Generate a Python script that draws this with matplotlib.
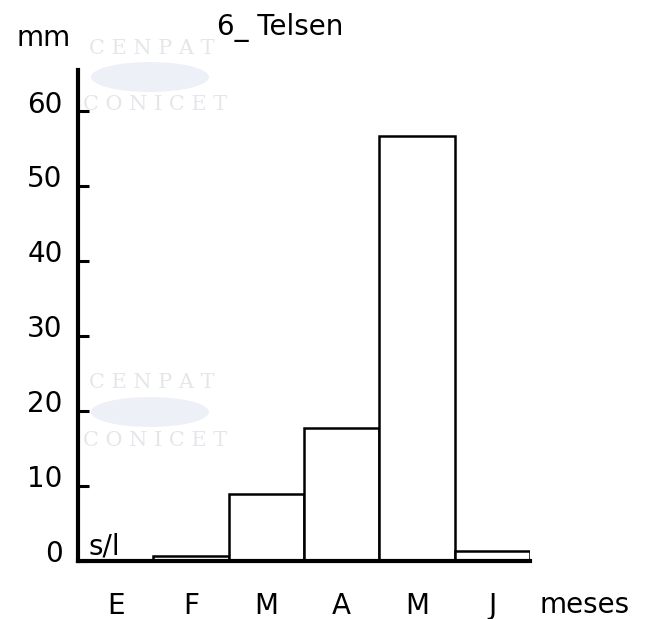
# plot.py - monthly rainfall bars for station 6 (Telsen)
import matplotlib
matplotlib.use("Agg")
import matplotlib.pyplot as plt
import matplotlib.transforms as mtransforms
from matplotlib.patches import Ellipse

months = ["E", "F", "M", "A", "M", "J"]
rain_mm = [None, 0.7, 9.0, 17.7, 56.7, 1.3]  # None = s/l (sin lluvia / sin lectura)
y_ticks = [0, 10, 20, 30, 40, 50, 60]

FS = 20


def main() -> None:
    fig = plt.figure(figsize=(6.48, 6.19), dpi=100)
    ax = fig.add_axes([78 / 648, 1 - 561 / 619, 452 / 648, 491 / 619])

    xs = [i for i, v in enumerate(rain_mm) if v is not None]
    hs = [v for v in rain_mm if v is not None]
    ax.bar(xs, hs, width=1.0, color="white", edgecolor="black", linewidth=1.8, zorder=2)

    ax.set_xlim(-0.5, len(months) - 0.5)
    ax.set_ylim(0, 65.5)

    for side in ("top", "right"):
        ax.spines[side].set_visible(False)
    for side in ("left", "bottom"):
        ax.spines[side].set_linewidth(3.0)
        ax.spines[side].set_zorder(3)

    ax.set_yticks(y_ticks)
    ax.set_yticklabels([str(t) for t in y_ticks], fontsize=FS)
    ax.tick_params(axis="y", direction="in", length=8, width=2.2, pad=11)
    offset = mtransforms.ScaledTranslation(0, 7 / 72, fig.dpi_scale_trans)
    for lab in ax.get_yticklabels():
        lab.set_transform(lab.get_transform() + offset)

    ax.set_xticks(range(len(months)))
    ax.set_xticklabels(months, fontsize=FS)
    ax.tick_params(axis="x", length=0, pad=22)

    # no data marker for January
    ax.text(-0.36, 0.9, "s/l", fontsize=FS, ha="left", va="baseline")

    fig.text(280 / 648, 1 - 28 / 619, "6_ Telsen", fontsize=FS, ha="center", va="center")
    fig.text(44 / 648, 1 - 38 / 619, "mm", fontsize=FS, ha="center", va="center")
    fig.text(585 / 648, 1 - 605 / 619, "meses", fontsize=FS, ha="center", va="center")

    # faint watermark of the scanned source
    wm = dict(fontsize=15, color="#e4e6e9", family="DejaVu Serif", ha="center",
              va="center", zorder=0)
    for y_top in (48, 383):
        fig.text(152 / 648, 1 - y_top / 619, "C E N P A T", **wm)
        fig.text(155 / 648, 1 - (y_top + 57) / 619, "C O N I C E T", **wm)
        fig.patches.append(Ellipse(
            (150 / 648, 1 - (y_top + 29) / 619), 118 / 648, 30 / 619,
            transform=fig.transFigure, facecolor="#edf1f7", edgecolor="none", zorder=0))

    fig.savefig("out.png", dpi=100)


if __name__ == "__main__":
    main()
